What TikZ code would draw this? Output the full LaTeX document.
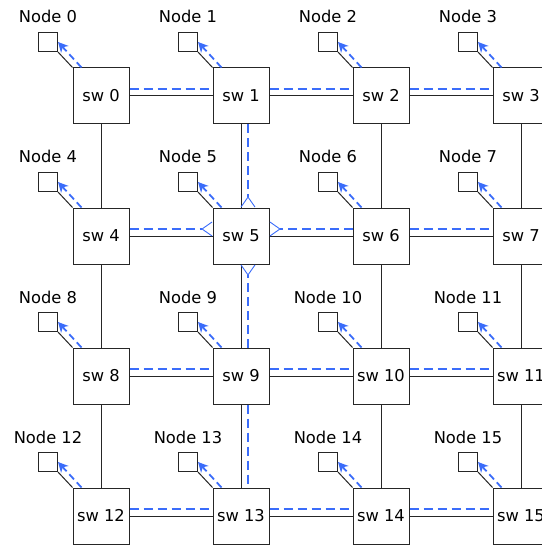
\documentclass[tikz,border=0pt]{standalone}
\usepackage{fontspec}
\setmainfont{DejaVu Sans}
\usetikzlibrary{arrows.meta}
\definecolor{linkblue}{RGB}{58,108,250}
\begin{document}
\begin{tikzpicture}[x=1pt,y=-1pt,
  switchbox/.style={draw=black!85, line width=1pt, minimum size=56pt, inner sep=0pt, font=\fontsize{16.3}{19}\selectfont},
  hostbox/.style={draw=black!85, line width=1pt, minimum size=19pt, inner sep=0pt},
  hostlabel/.style={anchor=base, inner sep=0pt, font=\fontsize{16.3}{19}\selectfont},
  wire/.style={draw=black!85, line width=1pt},
  route/.style={draw=linkblue, line width=1.8pt, dash pattern=on 9pt off 5pt},
  inject/.style={draw=linkblue, line width=1.8pt, dash pattern=on 7pt off 4pt, -{Stealth[length=10pt,width=10pt,inset=3pt]}},
  spread/.style={route, -{Straight Barb[reversed, length=10pt, width=14pt, line width=0.9pt]}}
]
\useasboundingbox (0,0) rectangle (541,545);
% switches, their attached nodes and the injection links
\foreach \k in {0,...,15} {
  \pgfmathtruncatemacro{\col}{mod(\k,4)}
  \pgfmathtruncatemacro{\row}{\k/4}
  \node[switchbox] (sw\k) at (101+140*\col, 96+140*\row) {sw \k};
  \node[hostbox] (n\k) at (48+140*\col, 42+140*\row) {};
  \node[hostlabel] (l\k) at (48+140*\col, 23+140*\row) {Node \k};
  \draw[wire] (n\k.south east) -- (sw\k.north west);
  \draw[inject] ([xshift=9pt]sw\k.north west) -- (n\k.east);
}
% mesh wiring
\foreach \r in {0,...,3} {
  \foreach \cc in {0,1,2} {
    \pgfmathtruncatemacro{\a}{4*\r+\cc}
    \pgfmathtruncatemacro{\b}{4*\r+\cc+1}
    \draw[wire] (sw\a.east) -- (sw\b.west);
  }
}
\foreach \cc in {0,...,3} {
  \foreach \r in {0,1,2} {
    \pgfmathtruncatemacro{\a}{4*\r+\cc}
    \pgfmathtruncatemacro{\b}{4*\r+\cc+4}
    \draw[wire] (sw\a.south) -- (sw\b.north);
  }
}
% routed traffic, horizontal
\foreach \a/\b in {0/1,1/2,2/3,6/7,8/9,9/10,10/11,12/13,13/14,14/15} {
  \draw[route] ([yshift=7pt]sw\a.east) -- ([yshift=7pt]sw\b.west);
}
% routed traffic, vertical in column 1
\draw[route] ([xshift=7pt]sw9.south) -- ([xshift=7pt]sw13.north);
% links fanning out of sw 5
\draw[spread] ([yshift=7pt]sw4.east) -- ([yshift=7pt]sw5.west);
\draw[spread] ([yshift=7pt]sw6.west) -- ([yshift=7pt]sw5.east);
\draw[spread] ([xshift=7pt]sw1.south) -- ([xshift=7pt]sw5.north);
\draw[spread] ([xshift=7pt]sw9.north) -- ([xshift=7pt]sw5.south);
\end{tikzpicture}
\end{document}
